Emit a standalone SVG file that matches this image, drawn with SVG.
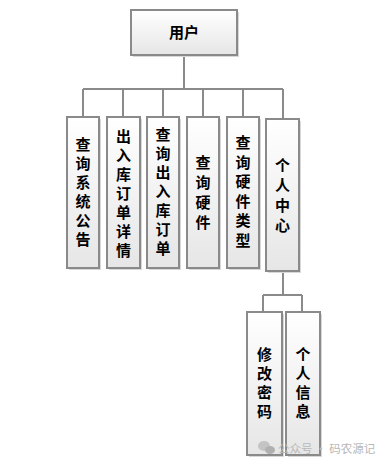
<svg xmlns="http://www.w3.org/2000/svg" width="379" height="463" viewBox="0 0 379 463">
<defs>
<linearGradient id="g" x1="0" y1="0" x2="0" y2="1">
<stop offset="0" stop-color="#ffffff"/>
<stop offset="1" stop-color="#e6e6e6"/>
</linearGradient>
</defs>
<style>
.box{fill:url(#g);stroke:#8a8a8a;stroke-width:2}
.sh{fill:#d8d8d8}
.t{font-family:"Noto Sans CJK SC","Liberation Sans",sans-serif;font-weight:bold;font-size:15px;fill:#000;text-anchor:middle}
.c{fill:none;stroke:#8a8a8a;stroke-width:2}
.wm{font-family:"Noto Sans CJK SC",sans-serif;font-size:11.5px;fill:#b8b8b8}
</style>
<rect width="379" height="463" fill="#ffffff"/>
<g id="connectors">
<path class="c" d="M184 55V89M83 89H283M83 89V117M123 89V117M163 89V117M203 89V117M243 89V117M283 89V119"/>
<path class="c" d="M283 271V295M263 295H302M263 295V312M302 295V312"/>
</g>
<g id="n-user">
<rect class="sh" x="133" y="12" width="106" height="45"/>
<rect class="box" x="131" y="10" width="106" height="45"/>
<text class="t" x="184" y="38" font-size="16">用户</text>
</g>
<g id="n1">
<rect class="sh" x="69" y="119" width="32" height="151"/>
<rect class="box" x="67" y="117" width="32" height="151"/>
<text class="t" x="83" y="150"><tspan x="83">查</tspan><tspan x="83" dy="19">询</tspan><tspan x="83" dy="19">系</tspan><tspan x="83" dy="19">统</tspan><tspan x="83" dy="19">公</tspan><tspan x="83" dy="19">告</tspan></text>
</g>
<g id="n2">
<rect class="sh" x="109" y="119" width="33" height="151"/>
<rect class="box" x="107" y="117" width="33" height="151"/>
<text class="t" x="123.5" y="142"><tspan x="123.5">出</tspan><tspan x="123.5" dy="19">入</tspan><tspan x="123.5" dy="19">库</tspan><tspan x="123.5" dy="19">订</tspan><tspan x="123.5" dy="19">单</tspan><tspan x="123.5" dy="19">详</tspan><tspan x="123.5" dy="19">情</tspan></text>
</g>
<g id="n3">
<rect class="sh" x="149" y="119" width="32" height="151"/>
<rect class="box" x="147" y="117" width="32" height="151"/>
<text class="t" x="163" y="140"><tspan x="163">查</tspan><tspan x="163" dy="19">询</tspan><tspan x="163" dy="19">出</tspan><tspan x="163" dy="19">入</tspan><tspan x="163" dy="19">库</tspan><tspan x="163" dy="19">订</tspan><tspan x="163" dy="19">单</tspan></text>
</g>
<g id="n4">
<rect class="sh" x="189" y="119" width="32" height="151"/>
<rect class="box" x="187" y="117" width="32" height="151"/>
<text class="t" x="203" y="168"><tspan x="203">查</tspan><tspan x="203" dy="20">询</tspan><tspan x="203" dy="20">硬</tspan><tspan x="203" dy="20">件</tspan></text>
</g>
<g id="n5">
<rect class="sh" x="229" y="119" width="32" height="151"/>
<rect class="box" x="227" y="117" width="32" height="151"/>
<text class="t" x="243" y="148"><tspan x="243">查</tspan><tspan x="243" dy="19.5">询</tspan><tspan x="243" dy="19.5">硬</tspan><tspan x="243" dy="19.5">件</tspan><tspan x="243" dy="19.5">类</tspan><tspan x="243" dy="19.5">型</tspan></text>
</g>
<g id="n6">
<rect class="sh" x="268" y="121" width="33" height="152"/>
<rect class="box" x="266" y="119" width="33" height="152"/>
<text class="t" x="282.5" y="171"><tspan x="282.5">个</tspan><tspan x="282.5" dy="20">人</tspan><tspan x="282.5" dy="20">中</tspan><tspan x="282.5" dy="20">心</tspan></text>
</g>
<g id="n7">
<rect class="sh" x="249" y="314" width="35" height="143"/>
<rect class="box" x="247" y="312" width="35" height="143"/>
<text class="t" x="264.5" y="360"><tspan x="264.5">修</tspan><tspan x="264.5" dy="19">改</tspan><tspan x="264.5" dy="19">密</tspan><tspan x="264.5" dy="19">码</tspan></text>
</g>
<g id="n8">
<rect class="sh" x="288" y="314" width="34" height="143"/>
<rect class="box" x="286" y="312" width="34" height="143"/>
<text class="t" x="303" y="360"><tspan x="303">个</tspan><tspan x="303" dy="19">人</tspan><tspan x="303" dy="19">信</tspan><tspan x="303" dy="19">息</tspan></text>
</g>
<g id="watermark" fill="#c4c4c4">
<ellipse cx="264" cy="446" rx="6" ry="5"/>
<ellipse cx="270" cy="450" rx="5" ry="4" fill="#b0b0b0"/>
<text class="wm" x="278" y="453">公众号 · 码农源记</text>
</g>
</svg>
